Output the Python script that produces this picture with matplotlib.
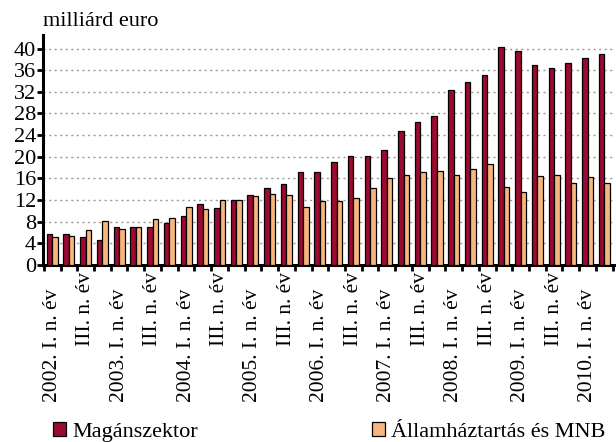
import matplotlib
matplotlib.use("Agg")
import matplotlib.pyplot as plt
import matplotlib.transforms as mtransforms
import numpy as np
from matplotlib.patches import Patch

# quarterly values, 2002 Q1 .. 2010 Q2 (billion euro)
years = list(range(2002, 2011))
private_sector = [5.8, 5.8, 5.2, 4.6, 7.1, 7.1, 7.1, 7.8, 9.0, 11.2,
                  10.5, 12.0, 12.9, 14.3, 15.0, 17.1, 17.1, 19.0, 20.1, 20.1,
                  21.2, 24.7, 26.4, 27.5, 32.4, 33.9, 35.1, 40.2, 39.6, 37.0,
                  36.4, 37.3, 38.3, 39.0]
government_mnb = [5.1, 5.35, 6.45, 8.1, 6.6, 7.0, 8.5, 8.7, 10.8, 10.4,
                  12.1, 12.1, 12.7, 13.2, 13.0, 10.8, 11.9, 11.75, 12.3, 14.3,
                  16.0, 16.6, 17.2, 17.4, 16.55, 17.7, 18.7, 14.5, 13.4, 16.4,
                  16.55, 15.1, 16.2, 15.1]
tick_labels = []
for y in years:
    tick_labels.append(f"{y}. I. n. év")
    if y < 2010:
        tick_labels.append("III. n. év")

series_names = ["Magánszektor", "Államháztartás és MNB"]
colors = ["#9b0a30", "#f7b77c"]

plt.rcParams["font.family"] = ["Liberation Serif", "DejaVu Serif"]
plt.rcParams["font.size"] = 16

fig = plt.figure(figsize=(6.16, 4.42), dpi=100)
ax = fig.add_axes([43 / 616, 1 - 265 / 442, 572 / 616, 230 / 442])

x = np.arange(len(private_sector))
w = 0.33
ax.bar(x - w / 2, private_sector, width=w, color=colors[0],
       edgecolor="black", linewidth=0.9, zorder=3)
ax.bar(x + w / 2, government_mnb, width=w, color=colors[1],
       edgecolor="black", linewidth=0.9, zorder=3)

ax.set_xlim(-0.55, len(x) - 1 + 0.64)
ax.set_ylim(0, 42.5)
ax.set_yticks(np.arange(0, 41, 4))
ax.grid(True, axis="y", color="#9a9a9a", linestyle=(0, (1.5, 2.5)), linewidth=1.0, zorder=0)

ax.set_xticks(np.arange(-0.5, len(x), 1.0))
ax.set_xticklabels([])
ax.tick_params(axis="x", direction="out", length=4, width=2, color="black")
ax.tick_params(axis="y", direction="out", length=4, width=2, pad=1, color="black")

# category labels: year labels sit a bit lower than the "III." ones
base = mtransforms.blended_transform_factory(ax.transData, ax.transAxes)
for i, label in zip(x[::2], tick_labels):
    drop = 5.0 if label.startswith("III") else 17.0
    tr = mtransforms.offset_copy(base, fig=fig, x=0, y=-drop, units="points")
    ax.text(i, 0, label, transform=tr, rotation=90, ha="center", va="top",
            fontsize=15.5)

for side in ["top", "right"]:
    ax.spines[side].set_visible(False)
for side in ["left", "bottom"]:
    ax.spines[side].set_linewidth(2.2)

fig.text(43 / 616, 1 - 21 / 442, "milliárd euro", ha="left", va="center")

h1 = Patch(facecolor=colors[0], edgecolor="black", linewidth=0.9)
h2 = Patch(facecolor=colors[1], edgecolor="black", linewidth=0.9)
fig.legend(handles=[h1], labels=[series_names[0]], loc="lower left",
           bbox_to_anchor=(40 / 616, -0.03), frameon=False,
           handlelength=0.55, handleheight=0.55, handletextpad=0.3, borderpad=0.1)
fig.legend(handles=[h2], labels=[series_names[1]], loc="lower right",
           bbox_to_anchor=(1.005, -0.03), frameon=False,
           handlelength=0.55, handleheight=0.55, handletextpad=0.3, borderpad=0.1)

fig.savefig("out.png", dpi=100)
